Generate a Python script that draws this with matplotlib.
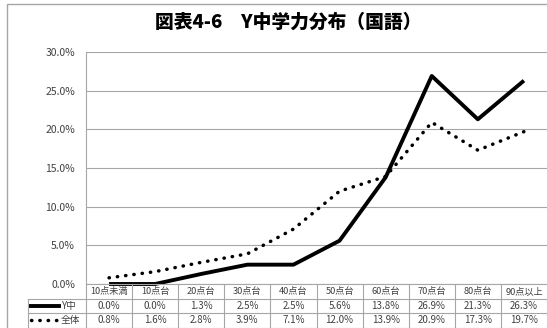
import matplotlib
matplotlib.use('Agg')
import matplotlib.pyplot as plt
from matplotlib.patches import Rectangle
from matplotlib.lines import Line2D

plt.rcParams['font.family'] = ['Noto Sans CJK JP', 'DejaVu Sans']

# data
categories = ['10点未満', '10点台', '20点台', '30点台', '40点台',
              '50点台', '60点台', '70点台', '80点台', '90点以上']
y_school = [0.0, 0.0, 1.3, 2.5, 2.5, 5.6, 13.8, 26.9, 21.3, 26.3]
overall = [0.8, 1.6, 2.8, 3.9, 7.1, 12.0, 13.9, 20.9, 17.3, 19.7]
series_names = ['Y中', '全体']
yticks = [0, 5, 10, 15, 20, 25, 30]
title = '図表4-6　Y中学力分布（国語）'

W, H = 547, 328
fig = plt.figure(figsize=(W / 100, H / 100), dpi=100)

def fx(px):
    return px / W

def fy(py):
    return 1 - py / H

grid_c = '#a6a6a6'
text_c = '#404040'

# outer chart border (cropped on right/bottom)
fig.patches.append(Rectangle((fx(7), fy(340)), fx(560) - fx(7), fy(4) - fy(340),
                             transform=fig.transFigure, fill=False,
                             edgecolor=grid_c, lw=1))

left, right, top, bottom = 86, 547, 52, 284
ax = fig.add_axes([fx(left), fy(bottom), fx(right) - fx(left), fy(top) - fy(bottom)])
n = len(categories)
x = list(range(n))
ax.set_xlim(-0.5, n - 0.5)
ax.set_ylim(0, 30)
ax.set_yticks(yticks)
ax.set_yticklabels([f'{v:.1f}%' for v in yticks], fontsize=7.5, color=text_c)
ax.tick_params(axis='y', length=0, pad=8)
ax.set_xticks([])
ax.grid(axis='y', color=grid_c, lw=0.8)
ax.set_axisbelow(True)
for s in ['top', 'right', 'bottom']:
    ax.spines[s].set_visible(False)
ax.spines['left'].set_color(grid_c)

ax.plot(x, y_school, color='black', lw=2.8, solid_capstyle='butt', clip_on=False)
ax.plot(x, overall, color='black', lw=2.5, linestyle=(0, (0.1, 2.3)),
        dash_capstyle='round', clip_on=False)

# data table below the axes
row_h = 14.5
rows_y = [bottom, bottom + row_h, bottom + 2 * row_h, bottom + 3 * row_h]
leg_left = 28
col_w = (right - left) / n

def hline(y, x0, x1):
    fig.add_artist(Line2D([fx(x0), fx(x1)], [fy(y), fy(y)], color=grid_c, lw=0.8))

def vline(xp, y0, y1):
    fig.add_artist(Line2D([fx(xp), fx(xp)], [fy(y0), fy(y1)], color=grid_c, lw=0.8))

hline(rows_y[0], left, right)
hline(rows_y[1], leg_left, right)
hline(rows_y[2], leg_left, right)
hline(rows_y[3], leg_left, right)
vline(leg_left, rows_y[1], rows_y[3])
for i in range(n + 1):
    vline(left + i * col_w, rows_y[0], rows_y[3])

for i, c in enumerate(categories):
    cx = left + (i + 0.5) * col_w
    fig.text(fx(cx), fy(rows_y[0] + row_h / 2), c, ha='center', va='center',
             fontsize=6.6, color=text_c)
    fig.text(fx(cx), fy(rows_y[1] + row_h / 2), f'{y_school[i]:.1f}%',
             ha='center', va='center', fontsize=7, color=text_c)
    fig.text(fx(cx), fy(rows_y[2] + row_h / 2), f'{overall[i]:.1f}%',
             ha='center', va='center', fontsize=7, color=text_c)

# legend keys in first column
ly1 = fy(rows_y[1] + row_h / 2)
ly2 = fy(rows_y[2] + row_h / 2)
fig.add_artist(Line2D([fx(31), fx(59)], [ly1, ly1], color='black', lw=2.8))
fig.add_artist(Line2D([fx(31), fx(59)], [ly2, ly2], color='black', lw=2.5,
                      linestyle=(0, (0.1, 2.3)), dash_capstyle='round'))
fig.text(fx(61), ly1, series_names[0], ha='left', va='center', fontsize=7, color=text_c)
fig.text(fx(61), ly2, series_names[1], ha='left', va='center', fontsize=7, color=text_c)

fig.text(fx(288), fy(22), title, ha='center', va='center', fontsize=13.5,
         fontweight='heavy', color='black')

fig.savefig('out.png', dpi=100)
